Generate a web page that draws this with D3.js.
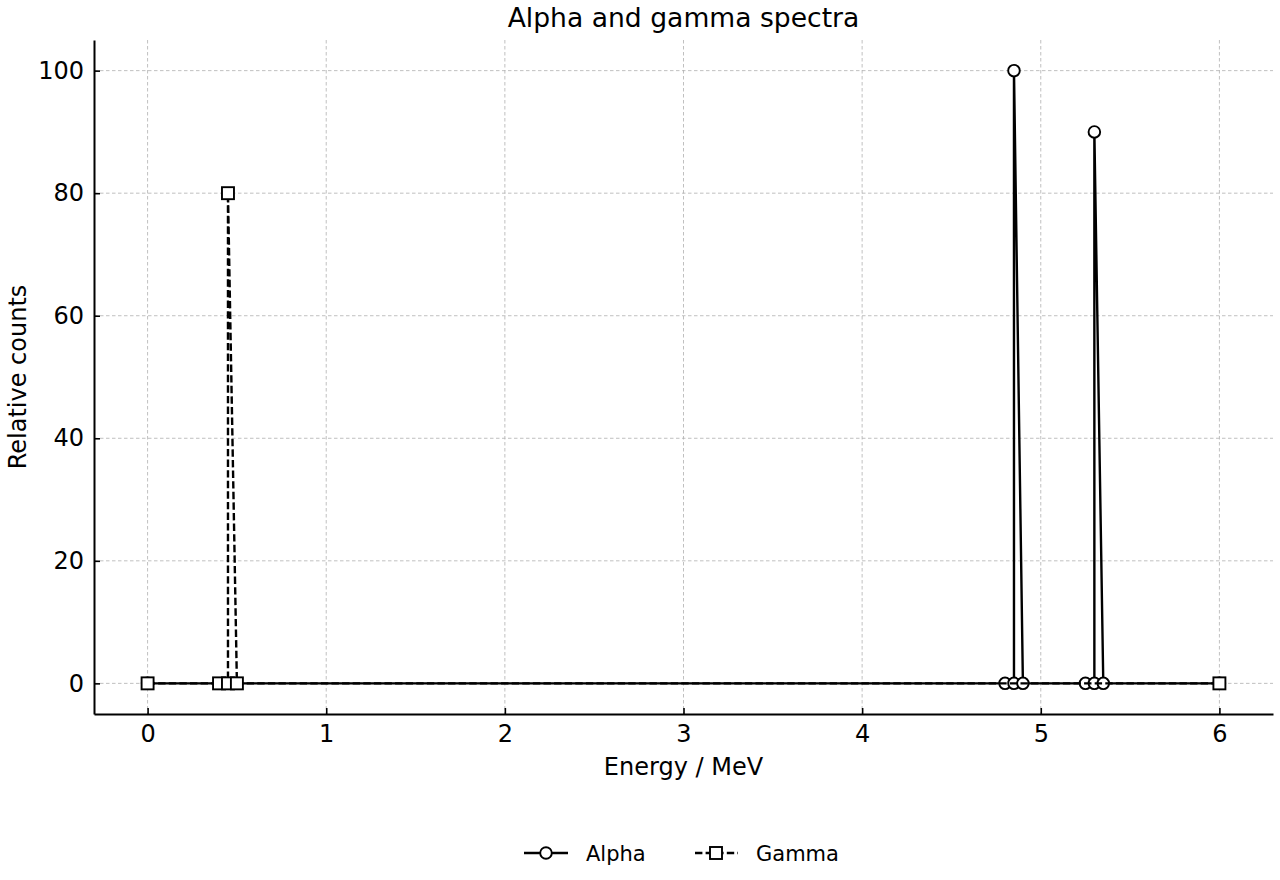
<!DOCTYPE html>
<html>
<head>
<meta charset="utf-8">
<script src="https://cdn.jsdelivr.net/npm/d3@7"></script>
<style>
  body { margin: 0; background: #fff; }
  text { font-family: "DejaVu Sans", sans-serif; fill: #000; }
</style>
</head>
<body>
<div id="chart"></div>
<script>
// alpha and gamma lines, x in MeV, y relative counts
let alphaE = [0, 4.8, 4.85, 4.85, 4.9, 5.25, 5.3, 5.3, 5.35, 6]
let alphaC = [0, 0, 0, 100, 0, 0, 0, 90, 0, 0]
let gammaE = [0, 0.4, 0.45, 0.45, 0.5, 6]
let gammaC = [0, 0, 0, 80, 0, 0]
let xTicks = [0, 1, 2, 3, 4, 5, 6]
let yTicks = [0, 20, 40, 60, 80, 100]

let W = 1280, H = 880
let margin = {top: 40, right: 7, bottom: 166, left: 94},
    width = W - margin.left - margin.right,
    height = H - margin.top - margin.bottom

let x = d3.scaleLinear().domain([-0.3, 6.3]).range([0, width])
let y = d3.scaleLinear().domain([-5, 105]).range([height, 0])

let svg = d3.select('#chart').append('svg')
    .attr('width', W)
    .attr('height', H)

let g = svg.append('g')
    .attr('transform', 'translate(' + margin.left + ',' + margin.top + ')')

// grid
g.append('g').selectAll('line').data(xTicks).join('line')
    .attr('x1', d => x(d)).attr('x2', d => x(d))
    .attr('y1', 0).attr('y2', height)
    .attr('stroke', '#b0b0b0').attr('stroke-width', 0.8).attr('stroke-dasharray', '3.5,2.5')
g.append('g').selectAll('line').data(yTicks).join('line')
    .attr('y1', d => y(d)).attr('y2', d => y(d))
    .attr('x1', 0).attr('x2', width)
    .attr('stroke', '#b0b0b0').attr('stroke-width', 0.8).attr('stroke-dasharray', '3.5,2.5')

let line = d3.line().x(d => x(d[0])).y(d => y(d[1]))

let alpha = alphaE.map((e, i) => [e, alphaC[i]])
let gamma = gammaE.map((e, i) => [e, gammaC[i]])

g.append('path').datum(alpha)
    .attr('d', line).attr('fill', 'none')
    .attr('stroke', '#000').attr('stroke-width', 2.4)
g.selectAll('circle.alpha').data(alpha).join('circle')
    .attr('class', 'alpha')
    .attr('cx', d => x(d[0])).attr('cy', d => y(d[1])).attr('r', 5.8)
    .attr('fill', '#fff').attr('stroke', '#000').attr('stroke-width', 1.9)

g.append('path').datum(gamma)
    .attr('d', line).attr('fill', 'none')
    .attr('stroke', '#000').attr('stroke-width', 2.4).attr('stroke-dasharray', '7.4,3.2')
g.selectAll('rect.gamma').data(gamma).join('rect')
    .attr('class', 'gamma')
    .attr('x', d => x(d[0]) - 6).attr('y', d => y(d[1]) - 6)
    .attr('width', 12).attr('height', 12)
    .attr('fill', '#fff').attr('stroke', '#000').attr('stroke-width', 1.9)

// axes, ticks pointing inward
let xAxis = g.append('g')
    .attr('transform', 'translate(0,' + height + ')')
    .call(d3.axisBottom(x).tickValues(xTicks).tickFormat(d3.format('d'))
      .tickSize(-6).tickSizeOuter(0).tickPadding(11))
let yAxis = g.append('g')
    .call(d3.axisLeft(y).tickValues(yTicks).tickFormat(d3.format('d'))
      .tickSize(-6).tickSizeOuter(0).tickPadding(10))

;[xAxis, yAxis].forEach(a => {
  a.attr('font-size', 24).attr('font-family', 'DejaVu Sans')
  a.select('.domain').attr('stroke', '#000').attr('stroke-width', 2)
  a.selectAll('.tick line').attr('stroke', '#000').attr('stroke-width', 1.6)
})

// titles
svg.append('text')
    .attr('x', margin.left + width / 2).attr('y', 27)
    .attr('text-anchor', 'middle').attr('font-size', 26.6)
    .text('Alpha and gamma spectra')
svg.append('text')
    .attr('x', margin.left + width / 2).attr('y', 775)
    .attr('text-anchor', 'middle').attr('font-size', 24)
    .text('Energy / MeV')
svg.append('text')
    .attr('transform', 'translate(26,' + (margin.top + height / 2) + ') rotate(-90)')
    .attr('text-anchor', 'middle').attr('font-size', 24)
    .text('Relative counts')

// legend
let leg = svg.append('g').attr('transform', 'translate(0,853)')
leg.append('line').attr('x1', 524).attr('x2', 568)
    .attr('stroke', '#000').attr('stroke-width', 2.4)
leg.append('circle').attr('cx', 546).attr('r', 5.8)
    .attr('fill', '#fff').attr('stroke', '#000').attr('stroke-width', 1.9)
leg.append('text').attr('x', 586).attr('y', 8).attr('font-size', 21).text('Alpha')
leg.append('line').attr('x1', 695).attr('x2', 738)
    .attr('stroke', '#000').attr('stroke-width', 2.4).attr('stroke-dasharray', '7.4,3.2')
leg.append('rect').attr('x', 710).attr('y', -6).attr('width', 12).attr('height', 12)
    .attr('fill', '#fff').attr('stroke', '#000').attr('stroke-width', 1.9)
leg.append('text').attr('x', 756).attr('y', 8).attr('font-size', 21).text('Gamma')
</script>
</body>
</html>
